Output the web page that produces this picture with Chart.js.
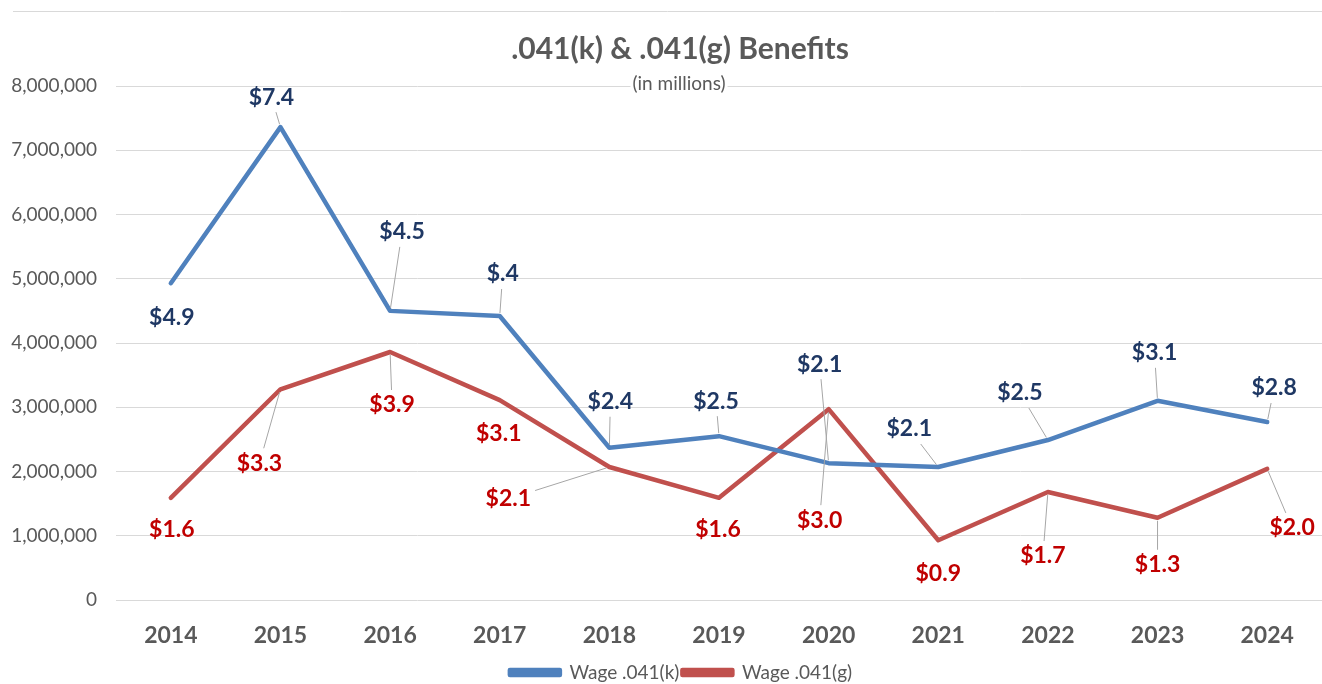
<!DOCTYPE html>
<html>
<head>
<meta charset="utf-8">
<script src="https://cdn.jsdelivr.net/npm/chart.js@4.4.1/dist/chart.umd.min.js"></script>
<style>
  html, body { margin: 0; padding: 0; background: #ffffff; }
  #wrap { position: relative; width: 1322px; height: 684px; }
</style>
</head>
<body>
<div id="wrap"><canvas id="c" width="1322" height="684"></canvas></div>
<script>
// ---- Data ----
const years = ["2014","2015","2016","2017","2018","2019","2020","2021","2022","2023","2024"];
const wageK = [4930000, 7360000, 4500000, 4420000, 2370000, 2550000, 2130000, 2070000, 2490000, 3100000, 2770000];
const wageG = [1590000, 3280000, 3860000, 3110000, 2070000, 1590000, 2970000, 930000, 1680000, 1280000, 2040000];
const labelsK = ["$4.9","$7.4","$4.5","$.4","$2.4","$2.5","$2.1","$2.1","$2.5","$3.1","$2.8"];
const labelsG = ["$1.6","$3.3","$3.9","$3.1","$2.1","$1.6","$3.0","$0.9","$1.7","$1.3","$2.0"];
const yTicks = [0, 1000000, 2000000, 3000000, 4000000, 5000000, 6000000, 7000000, 8000000];
const seriesNames = ["Wage .041(k)", "Wage .041(g)"];
const titleText = ".041(k) & .041(g) Benefits";
const subtitleText = "(in millions)";

// ---- Label placement (pixel offsets from the point) ----
const offK = [[1,34],[-9,-30],[12,-79],[3,-42],[1,-46],[-3,-35],[-9,-99],[-29,-38],[-28,-47],[-3,-48],[7,-34]];
const leadK = [0,1,1,1,1,1,1,1,1,1,1];
const offG = [[1,32],[-21,74],[2,53],[-1,33],[-101,32],[-1,32],[-9,111],[0,33],[-5,64],[0,47],[25,59]];
const leadG = [0,1,1,0,1,0,1,0,1,1,1];

const FONT = "Lato, 'Open Sans', 'Noto Sans', sans-serif";
const BLUE = "#4f81bd", RED = "#c0504d";
const BLUE_TXT = "#1f3864", RED_TXT = "#c00000";
const GREY = "#595959";

const labelPlugin = {
  id: 'leaderLabels',
  afterDatasetsDraw(chart) {
    const ctx = chart.ctx;
    const sets = [
      {meta: chart.getDatasetMeta(0), labels: labelsK, off: offK, lead: leadK, color: BLUE_TXT},
      {meta: chart.getDatasetMeta(1), labels: labelsG, off: offG, lead: leadG, color: RED_TXT}
    ];
    ctx.save();
    ctx.font = "bold 23px " + FONT;
    ctx.textAlign = "center";
    ctx.textBaseline = "middle";
    sets.forEach(s => {
      s.meta.data.forEach((pt, i) => {
        const lx = pt.x + s.off[i][0], ly = pt.y + s.off[i][1];
        const txt = s.labels[i];
        if (s.lead[i]) {
          const hw = ctx.measureText(txt).width / 2 + 4, hh = 15;
          let dx = pt.x - lx, dy = pt.y - ly;
          const tx = dx !== 0 ? hw / Math.abs(dx) : Infinity;
          const ty = dy !== 0 ? hh / Math.abs(dy) : Infinity;
          const t = Math.min(tx, ty);
          const sx = lx + dx * t, sy = ly + dy * t;
          const len = Math.hypot(dx, dy);
          const ex = pt.x - dx / len * 3, ey = pt.y - dy / len * 3;
          ctx.beginPath();
          ctx.strokeStyle = "#a6a6a6";
          ctx.lineWidth = 1;
          ctx.moveTo(sx, sy);
          ctx.lineTo(ex, ey);
          ctx.stroke();
        }
        ctx.fillStyle = s.color;
        ctx.fillText(txt, lx, ly);
      });
    });
    ctx.restore();
  }
};

const framePlugin = {
  id: 'frame',
  afterLayout(chart) {
    // nudge the bottom legend to sit under the plot centre like the original
    if (chart.legend) { chart.legend.left += 20; chart.legend.right += 20; }
  },
  afterDraw(chart) {
    const ctx = chart.ctx;
    ctx.save();
    ctx.strokeStyle = "#d9d9d9";
    ctx.lineWidth = 1;
    ctx.beginPath();
    ctx.moveTo(13, 11.5);
    ctx.lineTo(1322, 11.5);
    ctx.stroke();
    ctx.textAlign = "center";
    ctx.textBaseline = "middle";
    ctx.font = "bold 30px " + FONT;
    ctx.fillStyle = GREY;
    ctx.fillText(titleText, 680, 49);
    ctx.font = "19px " + FONT;
    const w = ctx.measureText(subtitleText).width;
    const cx = 679, cy = 84;
    ctx.fillStyle = "#ffffff";
    ctx.fillRect(cx - w / 2 - 2, cy - 11, w + 4, 22);
    ctx.fillStyle = GREY;
    ctx.fillText(subtitleText, cx, cy);
    ctx.restore();
  }
};

new Chart(document.getElementById('c'), {
  type: 'line',
  data: {
    labels: years,
    datasets: [
      { label: seriesNames[0], data: wageK, borderColor: BLUE, backgroundColor: BLUE,
        borderWidth: 4.5, pointRadius: 0, tension: 0, borderJoinStyle: 'round', borderCapStyle: 'round' },
      { label: seriesNames[1], data: wageG, borderColor: RED, backgroundColor: RED,
        borderWidth: 4.5, pointRadius: 0, tension: 0, borderJoinStyle: 'round', borderCapStyle: 'round' }
    ]
  },
  options: {
    responsive: false,
    animation: false,
    layout: { padding: { left: 0, right: 0, top: 86, bottom: -8 } },
    plugins: {
      title: { display: false },
      legend: {
        position: 'bottom',
        labels: {
          color: GREY, font: { family: FONT, size: 19 },
          boxWidth: 50, boxHeight: 5, padding: 3
        }
      },
      tooltip: { enabled: false }
    },
    scales: {
      x: {
        offset: true,
        afterFit(scale) { scale.height = 60; },
        grid: { display: false, drawTicks: false },
        border: { display: false },
        ticks: { color: GREY, font: { family: FONT, size: 23, weight: 'bold' }, padding: 22, maxRotation: 0 }
      },
      y: {
        min: 0, max: 8000000,
        afterBuildTicks(scale) { scale.ticks = yTicks.map(v => ({ value: v })); },
        afterFit(scale) { scale.width = 116; },
        grid: { color: "#d9d9d9", lineWidth: 1, drawTicks: false },
        border: { display: false },
        ticks: {
          color: GREY, font: { family: FONT, size: 19 }, padding: 19,
          callback: v => v.toLocaleString('en-US')
        }
      }
    }
  },
  plugins: [labelPlugin, framePlugin]
});
</script>
</body>
</html>
